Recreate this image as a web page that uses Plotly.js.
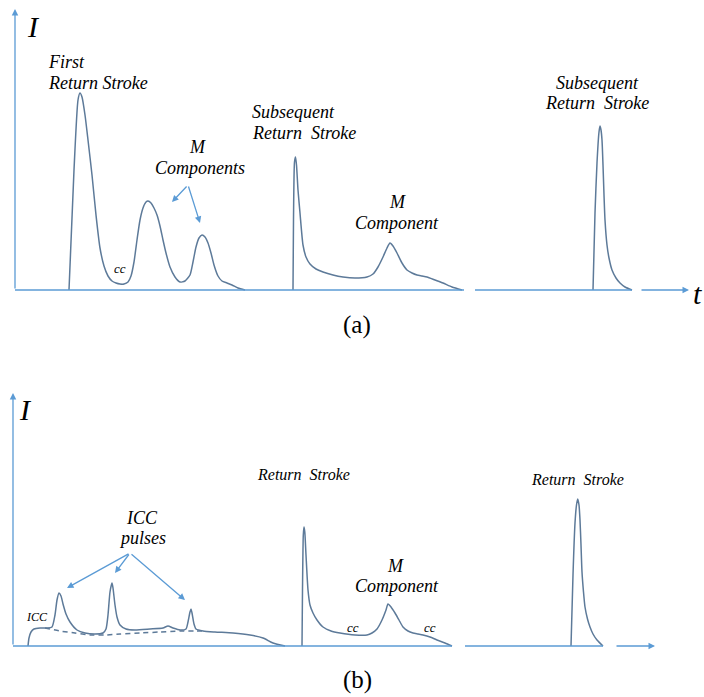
<!DOCTYPE html>
<html>
<head>
<meta charset="utf-8">
<script src="https://cdn.plot.ly/plotly-3.0.1.min.js"></script>
<style>html,body{margin:0;padding:0;background:#fff;}#chart{width:704px;height:697px;}</style>
</head>
<body>
<div id="chart"></div>
<script>
// ---------- Panel (a): ground flash current (arbitrary units) ----------
const aFirstT = [69, 74, 78, 80, 82, 85, 88, 92, 96, 100, 104, 108, 112, 116, 120, 124, 128, 131, 134, 137, 140, 143, 146, 148, 151, 154, 157, 160, 163, 166, 170, 175, 180, 185, 190, 193, 196, 199, 202, 205, 208, 211, 214, 218, 222, 227, 232, 238, 245];
const aFirstI = [0, 120, 190, 197, 193, 175, 150, 115, 75, 42, 24, 14, 9, 7, 6, 6, 8, 14, 28, 50, 70, 82, 88, 89, 87, 82, 75, 64, 50, 37, 23, 13, 8, 9, 15, 28, 43, 52, 55, 53, 47, 37, 25, 14, 9, 7, 5, 2, 0];
const aSubT = [293, 293.5, 294.5, 295.5, 296.5, 298, 300, 303, 306, 310, 316, 323, 333, 343, 355, 367, 373, 378, 383, 387, 390, 393, 397, 402, 407, 412, 417, 422, 427, 435, 443, 452, 462];
const aSubI = [0, 70, 128, 133, 125, 100, 77, 45, 33, 26, 21, 18, 15, 13, 12, 13, 16, 23, 33, 42, 47, 44, 37, 27, 20, 17, 15, 14, 13, 10, 7, 3, 0];
const aSub2T = [593, 595, 597, 599, 600, 601, 602, 603, 604, 605, 607, 609, 612, 616, 620, 625, 632];
const aSub2I = [0, 77, 127, 158, 164, 160, 150, 125, 95, 70, 45, 32, 20, 12, 7, 3, 0];

// ---------- Panel (b): flash with ICC pulses ----------
const bIccT = [28, 29, 31, 34, 40, 47, 52, 55, 57, 59, 61, 63, 66, 70, 77, 85, 95, 103, 106, 108, 110, 112, 113, 115, 117, 120, 126, 135, 150, 163, 168, 173, 180, 186, 188, 190, 191, 192, 194, 196, 203, 215, 233, 250, 263, 273, 285];
const bIccI = [0, 8, 14, 17, 18, 18, 19, 31, 46, 53, 50, 42, 32, 24, 16, 13, 12, 13, 17, 31, 54, 63, 58, 41, 29, 21, 17, 16, 17, 18, 20, 18, 16, 17, 24, 34, 37, 33, 22, 17, 15, 14, 13, 11, 8, 3, 0];
const bBaseT = [45, 60, 75, 90, 105, 120, 140, 160, 180, 195, 205];
const bBaseI = [18, 15, 13, 11, 11, 12, 13, 14, 15, 15, 15];
const bRs1T = [302, 302.5, 303.3, 304, 304.8, 306, 308, 310, 313, 317, 323, 331, 340, 355, 367, 372, 377, 382, 386, 388, 391, 395, 399, 403, 408, 413, 418, 423, 430, 437, 445, 452];
const bRs1I = [0, 56, 111, 119, 114, 91, 56, 41, 33, 26, 19, 15, 13, 11, 11, 13, 17, 26, 36, 42, 39, 33, 26, 19, 15, 13, 12, 11, 9, 6, 3, 0];
const bRs2T = [571, 573, 575, 576.5, 577.7, 579, 580, 581, 582, 583.5, 585, 587.5, 590, 593, 597, 603];
const bRs2I = [0, 71, 123, 141, 147, 141, 126, 101, 74, 54, 39, 27, 19, 12, 6, 0];

const CURVE = '#5d7a99';
const AXIS = '#5b9bd5';
const SERIF = 'Liberation Serif';
const INK = '#000';

function curve(t, i, xa, ya, dash) {
  return {x: t, y: i, xaxis: xa, yaxis: ya, type: 'scatter', mode: 'lines',
    line: {color: CURVE, width: 1.5, shape: 'spline', smoothing: 0.6, dash: dash || 'solid'},
    hoverinfo: 'skip', showlegend: false};
}

const data = [
  curve(aFirstT, aFirstI, 'x', 'y'),
  curve(aSubT, aSubI, 'x', 'y'),
  curve(aSub2T, aSub2I, 'x', 'y'),
  curve(bIccT, bIccI, 'x2', 'y2'),
  curve(bBaseT, bBaseI, 'x2', 'y2', '5px,4px'),
  curve(bRs1T, bRs1I, 'x2', 'y2'),
  curve(bRs2T, bRs2I, 'x2', 'y2')
];

function hline(x0, x1, xr, yr) {
  return {type: 'line', xref: xr, yref: yr, x0: x0, x1: x1, y0: 0, y1: 0, line: {color: AXIS, width: 1.3}};
}
const shapes = [
  hline(15, 464, 'x', 'y'), hline(475, 632, 'x', 'y'),
  hline(13, 452, 'x2', 'y2'), hline(465, 603, 'x2', 'y2')
];

function arrow(x, y, ax, ay, xr, yr) {
  return {x: x, y: y, ax: ax, ay: ay, xref: xr, yref: yr, axref: xr, ayref: yr,
    showarrow: true, arrowhead: 2, arrowsize: 1, arrowwidth: 1.3, arrowcolor: AXIS, text: ''};
}
function lab(x, y, text, xr, yr, size, anchor, italic) {
  return {x: x, y: y, xref: xr, yref: yr, text: text, showarrow: false,
    xanchor: anchor || 'center', yanchor: 'middle',
    font: {family: SERIF, size: size, color: INK, style: italic === false ? 'normal' : 'italic'}};
}
const RS = 'Return\u00a0\u00a0Stroke';
const annotations = [
  // axes (a)
  arrow(15, 281, 15, 0, 'x', 'y'),
  arrow(689, 0, 640, 0, 'x', 'y'),
  // axes (b)
  arrow(13, 253, 13, 0, 'x2', 'y2'),
  arrow(655, 0, 615, 0, 'x2', 'y2'),
  // M component arrows (a)
  arrow(172, 88, 188, 105, 'x', 'y'),
  arrow(200, 67, 188, 105, 'x', 'y'),
  // ICC pulse arrows (b)
  arrow(67, 58, 130, 93, 'x2', 'y2'),
  arrow(115, 73, 130, 93, 'x2', 'y2'),
  arrow(185, 46, 130, 93, 'x2', 'y2'),
  // labels (a)
  lab(33, 264, 'I', 'x', 'y', 30),
  lab(697, -3, 't', 'x', 'y', 30),
  lab(46, 228, 'First', 'x', 'y', 18, 'left'),
  lab(46, 207, 'Return Stroke', 'x', 'y', 18, 'left'),
  lab(120, 22, 'cc', 'x', 'y', 13),
  lab(197, 143, 'M', 'x', 'y', 18),
  lab(200, 122, 'Components', 'x', 'y', 18),
  lab(250, 178, 'Subsequent', 'x', 'y', 18, 'left'),
  lab(250, 157, RS, 'x', 'y', 18, 'left'),
  lab(397, 88, 'M', 'x', 'y', 18),
  lab(397, 67, 'Component', 'x', 'y', 18),
  lab(597, 207, 'Subsequent', 'x', 'y', 18),
  lab(597, 187, RS, 'x', 'y', 18),
  {x: 357, y: 325, xref: 'x', yref: 'paper', text: '(a)', showarrow: false, xanchor: 'center', yanchor: 'middle',
   font: {family: SERIF, size: 25, color: INK}},
  // labels (b)
  lab(25, 236, 'I', 'x2', 'y2', 30),
  lab(707, -4, 't', 'x2', 'y2', 30),
  lab(37, 29, 'ICC', 'x2', 'y2', 12),
  lab(142, 128, 'ICC', 'x2', 'y2', 18),
  lab(142, 108, 'pulses', 'x2', 'y2', 18),
  lab(303, 171, RS, 'x2', 'y2', 16),
  lab(395, 80, 'M', 'x2', 'y2', 18),
  lab(397, 60, 'Component', 'x2', 'y2', 18),
  lab(353, 19, 'cc', 'x2', 'y2', 13),
  lab(430, 19, 'cc', 'x2', 'y2', 13),
  lab(577, 166, RS, 'x2', 'y2', 16),
  {x: 357, y: 680, xref: 'x', yref: 'paper', text: '(b)', showarrow: false, xanchor: 'center', yanchor: 'middle',
   font: {family: SERIF, size: 25, color: INK}}
];
// convert pixel-y for (a)/(b) caption to paper coords
annotations.forEach(a => { if (a.yref === 'paper') a.y = (697 - a.y) / 697; });

const layout = {
  width: 704, height: 697,
  margin: {l: 0, r: 0, t: 0, b: 0, pad: 0},
  paper_bgcolor: '#fff', plot_bgcolor: 'rgba(0,0,0,0)',
  showlegend: false,
  font: {family: SERIF},
  xaxis: {domain: [0, 1], range: [0, 704], visible: false, fixedrange: true},
  yaxis: {domain: [387 / 697, 1], range: [-20, 290], visible: false, fixedrange: true},
  xaxis2: {domain: [0, 1], range: [0, 704], visible: false, anchor: 'y2', fixedrange: true},
  yaxis2: {domain: [0, 327 / 697], range: [-51, 276], visible: false, anchor: 'x2', fixedrange: true},
  shapes: shapes,
  annotations: annotations
};

Plotly.newPlot('chart', data, layout, {displayModeBar: false, staticPlot: true});
</script>
</body>
</html>
